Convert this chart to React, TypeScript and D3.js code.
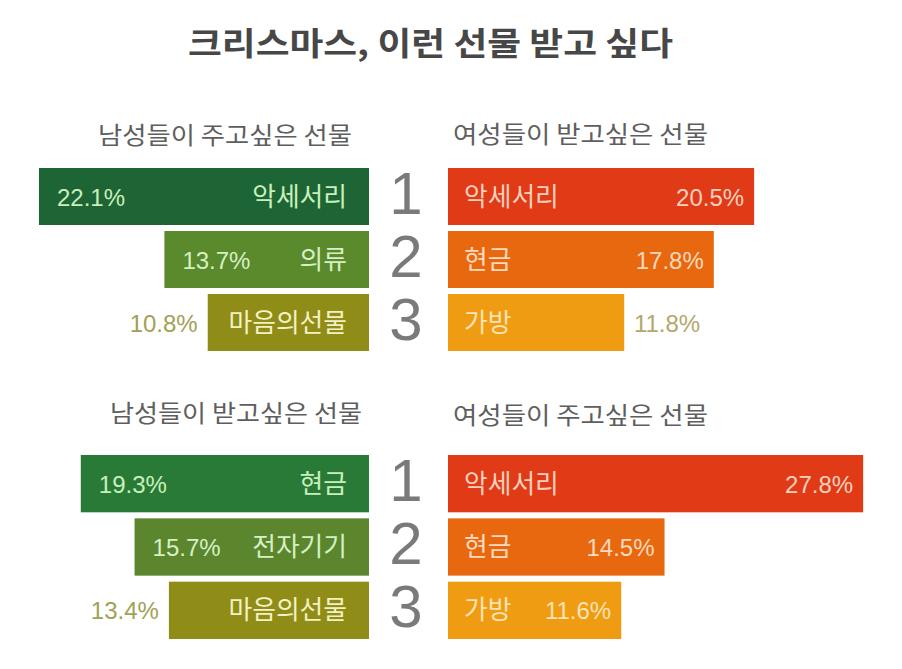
import React from "react";
import * as d3 from "d3";

const titleText = "크리스마스, 이런 선물 받고 싶다";
const ranks = ["1", "2", "3"];

const menGiveTitle = "남성들이 주고싶은 선물";
const menGiveItems = ["악세서리", "의류", "마음의선물"];
const menGiveValues = [22.1, 13.7, 10.8];
const menGiveInside = [true, true, false];

const womenWantTitle = "여성들이 받고싶은 선물";
const womenWantItems = ["악세서리", "현금", "가방"];
const womenWantValues = [20.5, 17.8, 11.8];
const womenWantInside = [true, true, false];

const menWantTitle = "남성들이 받고싶은 선물";
const menWantItems = ["현금", "전자기기", "마음의선물"];
const menWantValues = [19.3, 15.7, 13.4];
const menWantInside = [true, true, false];

const womenGiveTitle = "여성들이 주고싶은 선물";
const womenGiveItems = ["악세서리", "현금", "가방"];
const womenGiveValues = [27.8, 14.5, 11.6];
const womenGiveInside = [true, true, true];

const greensTop = ["#1e6535", "#5a8a2c", "#8f8d17"];
const greensBottom = ["#2a7a37", "#5b862e", "#8f8d17"];
const oranges = ["#e03a17", "#e8680f", "#f09c13"];

const KR = "'Noto Sans CJK KR', 'Noto Sans', sans-serif";
const NUM = "'Liberation Sans', Arial, sans-serif";

const W = 902;
const H = 669;
const CENTER_L = 369; // left bars end
const CENTER_R = 448; // right bars start

const x = d3.scaleLinear().domain([0, 30]).range([0, 448]);

type PanelProps = {
  side: "left" | "right";
  title: string;
  titleX: number;
  titleY: number;
  titleLen: number;
  items: string[];
  values: number[];
  inside: boolean[];
  colors: string[];
  y: d3.ScaleBand<string>;
  outsideColor: string;
  textColors: string[];
};

function Panel(p: PanelProps) {
  return (
    <g>
      <text
        x={p.titleX}
        y={p.titleY}
        fontFamily={KR}
        fontSize={24}
        fill="#5e5e5e"
        textLength={p.titleLen}
        lengthAdjust="spacingAndGlyphs"
      >
        {p.title}
      </text>
      {ranks.map((r, i) => {
        const w = x(p.values[i]);
        const top = p.y(r)!;
        const bh = p.y.bandwidth();
        const cy = top + bh / 2;
        const x0 = p.side === "left" ? CENTER_L - w : CENTER_R;
        const x1 = x0 + w;
        const pct = p.values[i].toFixed(1) + "%";
        const inside = p.inside[i];
        let pctX: number, pctAnchor: string, pctFill: string;
        if (p.side === "left") {
          if (inside) {
            pctX = x0 + 18;
            pctAnchor = "start";
            pctFill = p.textColors[i];
          } else {
            pctX = x0 - 10;
            pctAnchor = "end";
            pctFill = p.outsideColor;
          }
        } else {
          if (inside) {
            pctX = x1 - 10;
            pctAnchor = "end";
            pctFill = p.textColors[i];
          } else {
            pctX = x1 + 76;
            pctAnchor = "end";
            pctFill = p.outsideColor;
          }
        }
        const labelX = p.side === "left" ? x1 - 22 : x0 + 16;
        const labelAnchor = p.side === "left" ? "end" : "start";
        const label = p.items[i];
        return (
          <g key={r}>
            <rect x={x0} y={top} width={w} height={bh} fill={p.colors[i]} />
            <text
              x={labelX}
              y={cy + 9}
              textAnchor={labelAnchor}
              fontFamily={KR}
              fontSize={26}
              fill={p.textColors[i]}
              textLength={label.length * 23.7}
              lengthAdjust="spacingAndGlyphs"
            >
              {label}
            </text>
            <text
              x={pctX}
              y={cy + 9}
              textAnchor={pctAnchor}
              fontFamily={NUM}
              fontSize={24}
              fill={pctFill}
            >
              {pct}
            </text>
          </g>
        );
      })}
    </g>
  );
}

export default function App() {
  const yTop = d3
    .scaleBand<string>()
    .domain(ranks)
    .range([168, 351])
    .paddingInner(6 / 63)
    .paddingOuter(0);
  const yBottom = d3
    .scaleBand<string>()
    .domain(ranks)
    .range([455, 639])
    .paddingInner(6 / 63)
    .paddingOuter(0);

  const greenText = ["#c9efbb", "#d6f0c4", "#f3f1c2"];
  const orangeText = ["#fbd0bc", "#fcd8bd", "#fde3b5"];

  return (
    <div style={{ position: "absolute", left: 0, top: 0 }}>
      <svg width={W} height={H} style={{ display: "block", background: "#fff" }}>
        <text
          x={188}
          y={55}
          fontFamily={KR}
          fontWeight={700}
          fontSize={32}
          fill="#474747"
          textLength={485}
          lengthAdjust="spacingAndGlyphs"
        >
          {titleText}
        </text>

        <Panel
          side="left"
          title={menGiveTitle}
          titleX={98}
          titleY={144}
          titleLen={254}
          items={menGiveItems}
          values={menGiveValues}
          inside={menGiveInside}
          colors={greensTop}
          y={yTop}
          outsideColor="#a2a055"
          textColors={greenText}
        />
        <Panel
          side="right"
          title={womenWantTitle}
          titleX={453}
          titleY={143}
          titleLen={255}
          items={womenWantItems}
          values={womenWantValues}
          inside={womenWantInside}
          colors={oranges}
          y={yTop}
          outsideColor="#b3a86c"
          textColors={orangeText}
        />
        <Panel
          side="left"
          title={menWantTitle}
          titleX={110}
          titleY={422}
          titleLen={252}
          items={menWantItems}
          values={menWantValues}
          inside={menWantInside}
          colors={greensBottom}
          y={yBottom}
          outsideColor="#a2a055"
          textColors={greenText}
        />
        <Panel
          side="right"
          title={womenGiveTitle}
          titleX={453}
          titleY={424}
          titleLen={255}
          items={womenGiveItems}
          values={womenGiveValues}
          inside={womenGiveInside}
          colors={oranges}
          y={yBottom}
          outsideColor="#b3a86c"
          textColors={orangeText}
        />

        {ranks.map((r) => (
          <text
            key={"t" + r}
            x={406}
            y={yTop(r)! + yTop.bandwidth() / 2 + 17}
            textAnchor="middle"
            fontFamily={NUM}
            fontSize={60}
            fill="#7a7a7a"
          >
            {r}
          </text>
        ))}
        {ranks.map((r) => (
          <text
            key={"b" + r}
            x={406}
            y={yBottom(r)! + yBottom.bandwidth() / 2 + 17}
            textAnchor="middle"
            fontFamily={NUM}
            fontSize={60}
            fill="#7a7a7a"
          >
            {r}
          </text>
        ))}
      </svg>
    </div>
  );
}
